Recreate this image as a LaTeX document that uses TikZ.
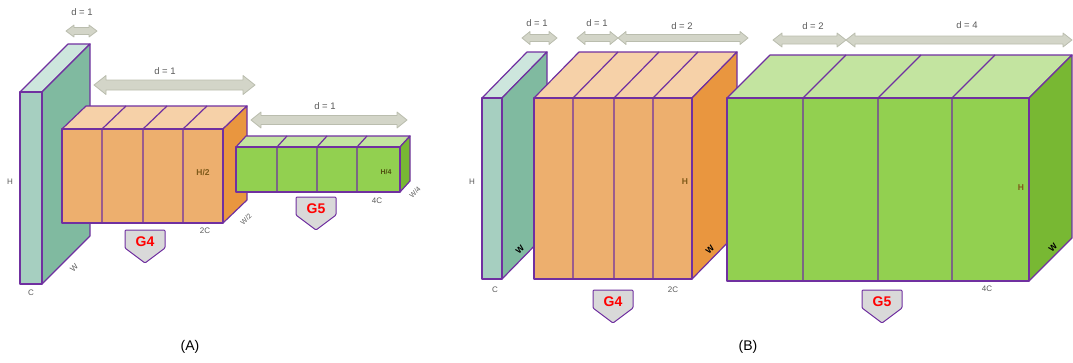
\documentclass[tikz,border=0pt]{standalone}
\usepackage{fontspec}
\setmainfont{Liberation Sans}
\definecolor{pur}{HTML}{7030A0}
\definecolor{tealF}{HTML}{A6CFC0}
\definecolor{tealS}{HTML}{80BAA0}
\definecolor{tealT}{HTML}{CDE6DD}
\definecolor{orF}{HTML}{EDAF6E}
\definecolor{orS}{HTML}{E9963F}
\definecolor{orT}{HTML}{F6D1A8}
\definecolor{grF}{HTML}{92D050}
\definecolor{grS}{HTML}{78B833}
\definecolor{grT}{HTML}{C3E4A0}
\definecolor{arF}{HTML}{D3D5C8}
\definecolor{arD}{HTML}{BABDAE}
\definecolor{lblgray}{HTML}{595959}
\definecolor{lblbrown}{HTML}{7F5A1A}
\definecolor{lbldark}{HTML}{4F4F10}
\tikzset{
  facedraw/.style={draw=pur, line width=1.2pt, line join=round},
  darr/.style={fill=arF, draw=arD, line width=0.8pt, line join=round},
  dlabel/.style={font=\fontsize{9.5}{10}\selectfont, text=lblgray, inner sep=0pt},
  small/.style={font=\fontsize{8}{9}\selectfont, text=lblgray, inner sep=0pt},
  smallb/.style={font=\fontsize{8.5}{9}\selectfont\bfseries, text=lblbrown, inner sep=0pt},
  badgetxt/.style={font=\fontsize{14}{15}\selectfont\bfseries, text=red, inner sep=0pt},
  caption/.style={font=\fontsize{14}{16}\selectfont, inner sep=0pt}
}
\newcommand{\drawcub}[7]{%
  \filldraw[fill=#7T, facedraw] (#1,#3) -- ({#1+#5},{#3-#6}) -- ({#2+#5},{#3-#6}) -- (#2,#3) -- cycle;
  \filldraw[fill=#7S, facedraw] (#2,#3) -- ({#2+#5},{#3-#6}) -- ({#2+#5},{#4-#6}) -- (#2,#4) -- cycle;
  \filldraw[fill=#7F, facedraw] (#1,#3) rectangle (#2,#4);
}
\newcommand{\drawbadge}[4]{%
  \filldraw[fill=black!15, draw=pur, line width=1pt, line join=round, rounded corners=1pt]
    (#2,#3) -- ({#2+40},#3) -- ({#2+40},{#3+18}) -- ({#2+20},{#3+33}) -- (#2,{#3+18}) -- cycle;
  \node[badgetxt] (#1) at ({#2+20},{#3+12}) {#4};
}
% name, x1, x2, yc, shaft half, head half, head length
\newcommand{\drawdarr}[7]{%
  \coordinate (#1) at ({(#2+#3)/2},#4);
  \filldraw[darr] (#2,#4) -- ({#2+#7},{#4-#6}) -- ({#2+#7},{#4-#5}) -- ({#3-#7},{#4-#5})
    -- ({#3-#7},{#4-#6}) -- (#3,#4) -- ({#3-#7},{#4+#6}) -- ({#3-#7},{#4+#5})
    -- ({#2+#7},{#4+#5}) -- ({#2+#7},{#4+#6}) -- cycle;
}
\begin{document}
\begin{tikzpicture}[x=1pt, y=-1pt]
\useasboundingbox (0,0) rectangle (1073,362);

% ===== (A) =====
\drawcub{20}{42}{92}{284}{48}{48}{teal}
\drawcub{62}{223}{129}{223}{24}{23}{or}
\foreach \xd in {102,143,183} {\draw[facedraw] (\xd,129) -- (\xd,223) (\xd,129) -- ({\xd+24},106);}
\drawcub{236}{400}{147}{192}{10}{11}{gr}
\foreach \xd in {277,317,357} {\draw[facedraw] (\xd,147) -- (\xd,192) (\xd,147) -- ({\xd+10},136);}

\drawdarr{a1}{66}{97}{31}{3.5}{6}{8}
\node[dlabel] (ta1) at (82,12) {d = 1};
\drawdarr{a2}{94}{255}{85}{5}{9.5}{12}
\node[dlabel] (ta2) at (165,71) {d = 1};
\drawdarr{a3}{251}{407}{120}{4.5}{8}{10}
\node[dlabel] (ta3) at (325,106) {d = 1};

\node[small] (ha) at (10,182) {H};
\node[small] (ca) at (31,293) {C};
\node[small, rotate=45] (wa) at (74,268) {W};
\node[smallb] (h2) at (203,173) {H/2};
\node[small] (c2) at (205,231) {2C};
\node[small, rotate=45, font=\fontsize{7}{8}\selectfont] (w2) at (246,219) {W/2};
\node[smallb, text=lbldark, font=\fontsize{7}{8}\selectfont\bfseries] (h4) at (386,172) {H/4};
\node[small] (c4) at (377,201) {4C};
\node[small, rotate=45, font=\fontsize{7}{8}\selectfont] (w4) at (415,192) {W/4};

\drawbadge{g4a}{125}{230}{G4}
\drawbadge{g5a}{296}{197}{G5}

\node[caption] (capa) at (190,347) {(A)};

% ===== (B) =====
\drawcub{482}{502}{98}{279}{45}{46}{teal}
\drawcub{534}{692}{98}{279}{45}{46}{or}
\foreach \xd in {573,614,653} {\draw[facedraw] (\xd,98) -- (\xd,279) (\xd,98) -- ({\xd+45},52);}
\drawcub{727}{1029}{98}{281}{43}{43}{gr}
\foreach \xd in {803,878,952} {\draw[facedraw] (\xd,98) -- (\xd,281) (\xd,98) -- ({\xd+43},55);}

\drawdarr{b1}{522}{557}{38}{3.5}{6.5}{8}
\node[dlabel] (tb1) at (537,23) {d = 1};
\drawdarr{b2}{577}{618}{38}{3.5}{6.5}{8}
\node[dlabel] (tb2) at (597,23) {d = 1};
\drawdarr{b3}{618}{748}{38}{3.5}{6.5}{8}
\node[dlabel] (tb3) at (682,26) {d = 2};
\drawdarr{b4}{773}{846}{40}{4}{7}{9}
\node[dlabel] (tb4) at (813,26) {d = 2};
\drawdarr{b5}{846}{1072}{40}{4}{7}{9}
\node[dlabel] (tb5) at (967,25) {d = 4};

\node[small] (hb) at (472,182) {H};
\node[small] (cb) at (495,290) {C};
\node[small, text=black, font=\fontsize{8.5}{9}\selectfont\bfseries, rotate=45] (wb) at (520,250) {W};
\node[smallb] (hb2) at (685,182) {H};
\node[small] (cb2) at (673,290) {2C};
\node[small, text=black, font=\fontsize{8.5}{9}\selectfont\bfseries, rotate=45] (wb2) at (710,250) {W};
\node[smallb] (hb4) at (1021,188) {H};
\node[small] (cb4) at (987,289) {4C};
\node[small, text=black, font=\fontsize{8.5}{9}\selectfont\bfseries, rotate=45] (wb4) at (1053,248) {W};

\drawbadge{g4b}{593}{290}{G4}
\drawbadge{g5b}{862}{290}{G5}

\node[caption] (capb) at (748,347) {(B)};
\end{tikzpicture}
\end{document}
